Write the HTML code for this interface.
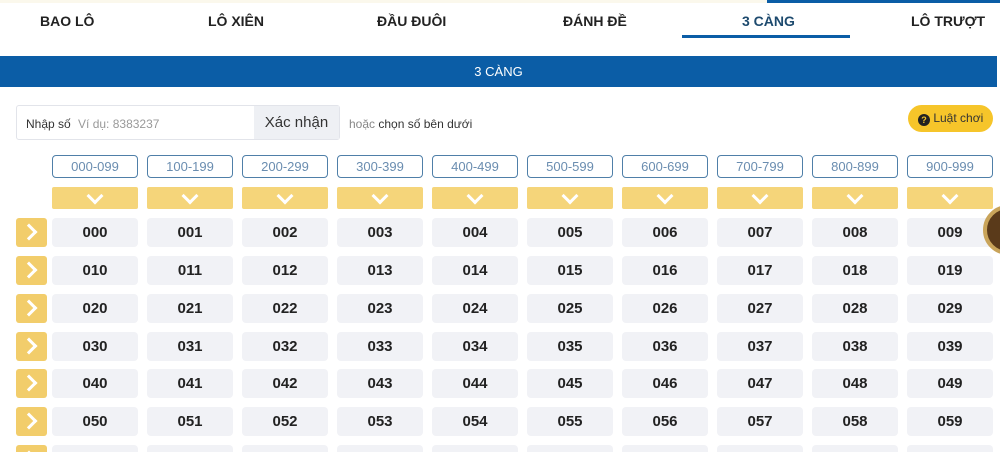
<!DOCTYPE html>
<html style="width:1000px;height:452px;overflow:hidden"><head><meta charset="utf-8"><style>
*{margin:0;padding:0;box-sizing:border-box}
html,body{overflow:hidden}
body{width:1000px;height:452px;overflow:hidden;background:#fff;font-family:"Liberation Sans",sans-serif;position:relative}
.a{position:absolute}
.tab{position:absolute;top:13px;font-size:14px;font-weight:bold;color:#222;text-align:center}
.r{position:absolute;top:155px;width:86px;height:23px;border:1px solid #4f7fa8;border-radius:4px;color:#6a8db0;font-size:13px;text-align:center;line-height:21px}
.y{position:absolute;top:187px;width:86px;height:22px;background:#f5d57a;border-radius:2px}
.y:after{content:"";position:absolute;left:37px;top:3px;width:9px;height:9px;border-right:3px solid #fff;border-bottom:3px solid #fff;transform:rotate(45deg)}
.c{position:absolute;width:86px;height:29px;background:#f1f2f6;border-radius:4px;font-size:15px;font-weight:bold;color:#222;text-align:center;line-height:29px}
.b{position:absolute;left:16px;width:31px;height:29px;background:#f2cd6b;border-radius:3px}
.b:after{content:"";position:absolute;left:7px;top:8px;width:9px;height:9px;border-right:3px solid #fff;border-top:3px solid #fff;transform:rotate(45deg)}
</style></head><body>
<div class="a" style="left:0;top:0;width:767px;height:3px;background:#fbf8ec"></div>
<div class="a" style="left:767px;top:0;width:233px;height:3px;background:#0b5da6"></div>
<div class="tab" style="left:40px">BAO LÔ</div>
<div class="tab" style="left:208px">LÔ XIÊN</div>
<div class="tab" style="left:377px">ĐẦU ĐUÔI</div>
<div class="tab" style="left:563px">ĐÁNH ĐỀ</div>
<div class="tab" style="left:742px;color:#1d4a6e">3 CÀNG</div>
<div class="tab" style="left:911px">LÔ TRƯỢT</div>
<div class="a" style="left:682px;top:35px;width:168px;height:3px;background:#0b5da6"></div>
<div class="a" style="left:0;top:56px;width:997px;height:31px;background:#0b5da6;color:#fff;font-size:13px;text-align:center;line-height:31px">3 CÀNG</div>
<div class="a" style="left:16px;top:105px;width:324px;height:35px;border:1px solid #e2e4ea;border-radius:3px"></div>
<div class="a" style="left:254px;top:106px;width:85px;height:33px;background:#eef0f4;font-size:15px;color:#333;text-align:center;line-height:33px">Xác nhận</div>
<div class="a" style="left:26px;top:117px;font-size:12px;color:#333">Nhập số <span style="color:#999;margin-left:4px">Ví dụ: 8383237</span></div>
<div class="a" style="left:349px;top:117px;font-size:12px;color:#333"><span style="color:#888">hoặc</span> chọn số bên dưới</div>
<div class="a" style="left:908px;top:105px;width:85px;height:27px;background:#f6c52a;border-radius:14px;font-size:12px;color:#333;line-height:27px;padding-left:10px"><span style="display:inline-block;width:12px;height:12px;border-radius:6px;background:#222;color:#f6c52a;font-size:9px;text-align:center;line-height:12px;font-weight:bold;vertical-align:-1px">?</span> Luật chơi</div>
<div class="r" style="left:52px">000-099</div><div class="r" style="left:147px">100-199</div><div class="r" style="left:242px">200-299</div><div class="r" style="left:337px">300-399</div><div class="r" style="left:432px">400-499</div><div class="r" style="left:527px">500-599</div><div class="r" style="left:622px">600-699</div><div class="r" style="left:717px">700-799</div><div class="r" style="left:812px">800-899</div><div class="r" style="left:907px">900-999</div>
<div class="y" style="left:52px"></div><div class="y" style="left:147px"></div><div class="y" style="left:242px"></div><div class="y" style="left:337px"></div><div class="y" style="left:432px"></div><div class="y" style="left:527px"></div><div class="y" style="left:622px"></div><div class="y" style="left:717px"></div><div class="y" style="left:812px"></div><div class="y" style="left:907px"></div>
<div class="b" style="top:218px"></div><div class="b" style="top:256px"></div><div class="b" style="top:294px"></div><div class="b" style="top:332px"></div><div class="b" style="top:369px"></div><div class="b" style="top:407px"></div><div class="b" style="top:445px"></div>
<div style="position:absolute;top:218px;left:0">
<div class="c" style="left:52px">000</div><div class="c" style="left:147px">001</div><div class="c" style="left:242px">002</div><div class="c" style="left:337px">003</div><div class="c" style="left:432px">004</div><div class="c" style="left:527px">005</div><div class="c" style="left:622px">006</div><div class="c" style="left:717px">007</div><div class="c" style="left:812px">008</div><div class="c" style="left:907px">009</div></div>
<div style="position:absolute;top:256px;left:0">
<div class="c" style="left:52px">010</div><div class="c" style="left:147px">011</div><div class="c" style="left:242px">012</div><div class="c" style="left:337px">013</div><div class="c" style="left:432px">014</div><div class="c" style="left:527px">015</div><div class="c" style="left:622px">016</div><div class="c" style="left:717px">017</div><div class="c" style="left:812px">018</div><div class="c" style="left:907px">019</div></div>
<div style="position:absolute;top:294px;left:0">
<div class="c" style="left:52px">020</div><div class="c" style="left:147px">021</div><div class="c" style="left:242px">022</div><div class="c" style="left:337px">023</div><div class="c" style="left:432px">024</div><div class="c" style="left:527px">025</div><div class="c" style="left:622px">026</div><div class="c" style="left:717px">027</div><div class="c" style="left:812px">028</div><div class="c" style="left:907px">029</div></div>
<div style="position:absolute;top:332px;left:0">
<div class="c" style="left:52px">030</div><div class="c" style="left:147px">031</div><div class="c" style="left:242px">032</div><div class="c" style="left:337px">033</div><div class="c" style="left:432px">034</div><div class="c" style="left:527px">035</div><div class="c" style="left:622px">036</div><div class="c" style="left:717px">037</div><div class="c" style="left:812px">038</div><div class="c" style="left:907px">039</div></div>
<div style="position:absolute;top:369px;left:0">
<div class="c" style="left:52px">040</div><div class="c" style="left:147px">041</div><div class="c" style="left:242px">042</div><div class="c" style="left:337px">043</div><div class="c" style="left:432px">044</div><div class="c" style="left:527px">045</div><div class="c" style="left:622px">046</div><div class="c" style="left:717px">047</div><div class="c" style="left:812px">048</div><div class="c" style="left:907px">049</div></div>
<div style="position:absolute;top:407px;left:0">
<div class="c" style="left:52px">050</div><div class="c" style="left:147px">051</div><div class="c" style="left:242px">052</div><div class="c" style="left:337px">053</div><div class="c" style="left:432px">054</div><div class="c" style="left:527px">055</div><div class="c" style="left:622px">056</div><div class="c" style="left:717px">057</div><div class="c" style="left:812px">058</div><div class="c" style="left:907px">059</div></div>
<div style="position:absolute;top:445px;left:0">
<div class="c" style="left:52px"></div><div class="c" style="left:147px"></div><div class="c" style="left:242px"></div><div class="c" style="left:337px"></div><div class="c" style="left:432px"></div><div class="c" style="left:527px"></div><div class="c" style="left:622px"></div><div class="c" style="left:717px"></div><div class="c" style="left:812px"></div><div class="c" style="left:907px"></div></div>
<div class="a" style="left:983px;top:205px;width:50px;height:50px;border-radius:25px;background:#5a3a1a;border:4px solid #c9a45a"></div>
</body></html>
